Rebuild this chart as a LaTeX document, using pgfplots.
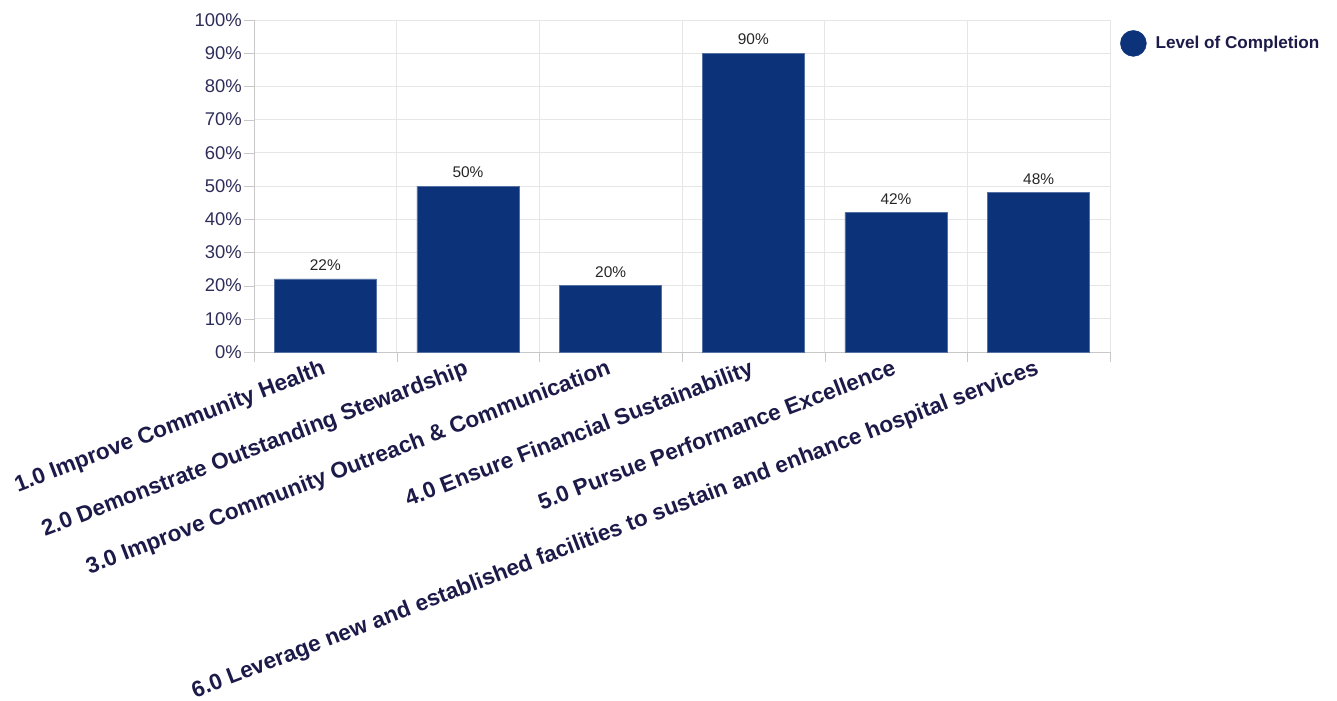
\documentclass[border=0pt]{standalone}
\usepackage{fontspec}
\setmainfont{Liberation Sans}
\usepackage{pgfplots}
\pgfplotsset{compat=1.18}
\definecolor{barblue}{RGB}{12,50,122}
\definecolor{ticktxt}{RGB}{45,45,90}
\definecolor{labtxt}{RGB}{28,26,72}
\definecolor{gridc}{RGB}{230,230,230}
\definecolor{axisc}{RGB}{200,200,200}

\begin{document}
\begin{tikzpicture}
\useasboundingbox (-254bp,-349bp) rectangle (1083bp,352bp);
\begin{axis}[
    at={(0,0)}, anchor=south west,
    scale only axis, width=856bp, height=332bp,
    xmin=-0.5, xmax=5.5, ymin=0, ymax=100,
    ybar, bar width=0.715,
    axis lines*=left,
    axis line style={axisc},
    tick align=outside,
    major tick length=10bp, minor tick length=10bp,
    xtick=data,
    xticklabels={
        1.0 Improve Community Health,
        2.0 Demonstrate Outstanding Stewardship,
        3.0 Improve Community Outreach \& Communication,
        4.0 Ensure Financial Sustainability,
        5.0 Pursue Performance Excellence,
        6.0 Leverage new and established facilities to sustain and enhance hospital services},
    major x tick style={draw=none},
    minor xtick={-0.5,0.5,1.5,2.5,3.5,4.5,5.5},
    minor x tick style={axisc},
    major y tick style={axisc},
    xminorgrids, ymajorgrids,
    grid style={gridc, line width=0.8bp},
    ytick={0,10,...,100},
    yticklabel={\pgfmathprintnumber{\tick}\%},
    /pgf/number format/assume math mode=true,
    yticklabel style={font=\fontsize{18.5}{20}\selectfont, text=ticktxt, inner sep=2bp},
    xticklabel style={rotate=21, anchor=north east, inner sep=0pt, xshift=-3bp, yshift=5bp,
        font=\bfseries\fontsize{22.6}{24}\selectfont, text=labtxt},
    nodes near coords={\pgfmathprintnumber{\pgfplotspointmeta}\%},
    every node near coord/.append style={font=\fontsize{15.5}{17}\selectfont, text=black!85, inner sep=3bp, yshift=5bp},
    legend style={draw=none, fill=none, at={(1,1)}, anchor=north west,
        xshift=7bp, yshift=-8bp,
        font=\bfseries\fontsize{17.2}{19}\selectfont, text=labtxt},
    legend image code/.code={\fill[barblue] (0bp,0bp) circle (13bp);
        \path (20bp,0bp);},
]
\addplot[fill=barblue, draw=barblue!70!white] coordinates {
    (0,22) (1,50) (2,20) (3,90) (4,42) (5,48)
};
\addlegendentry{Level of Completion}
\end{axis}
\end{tikzpicture}
\end{document}
